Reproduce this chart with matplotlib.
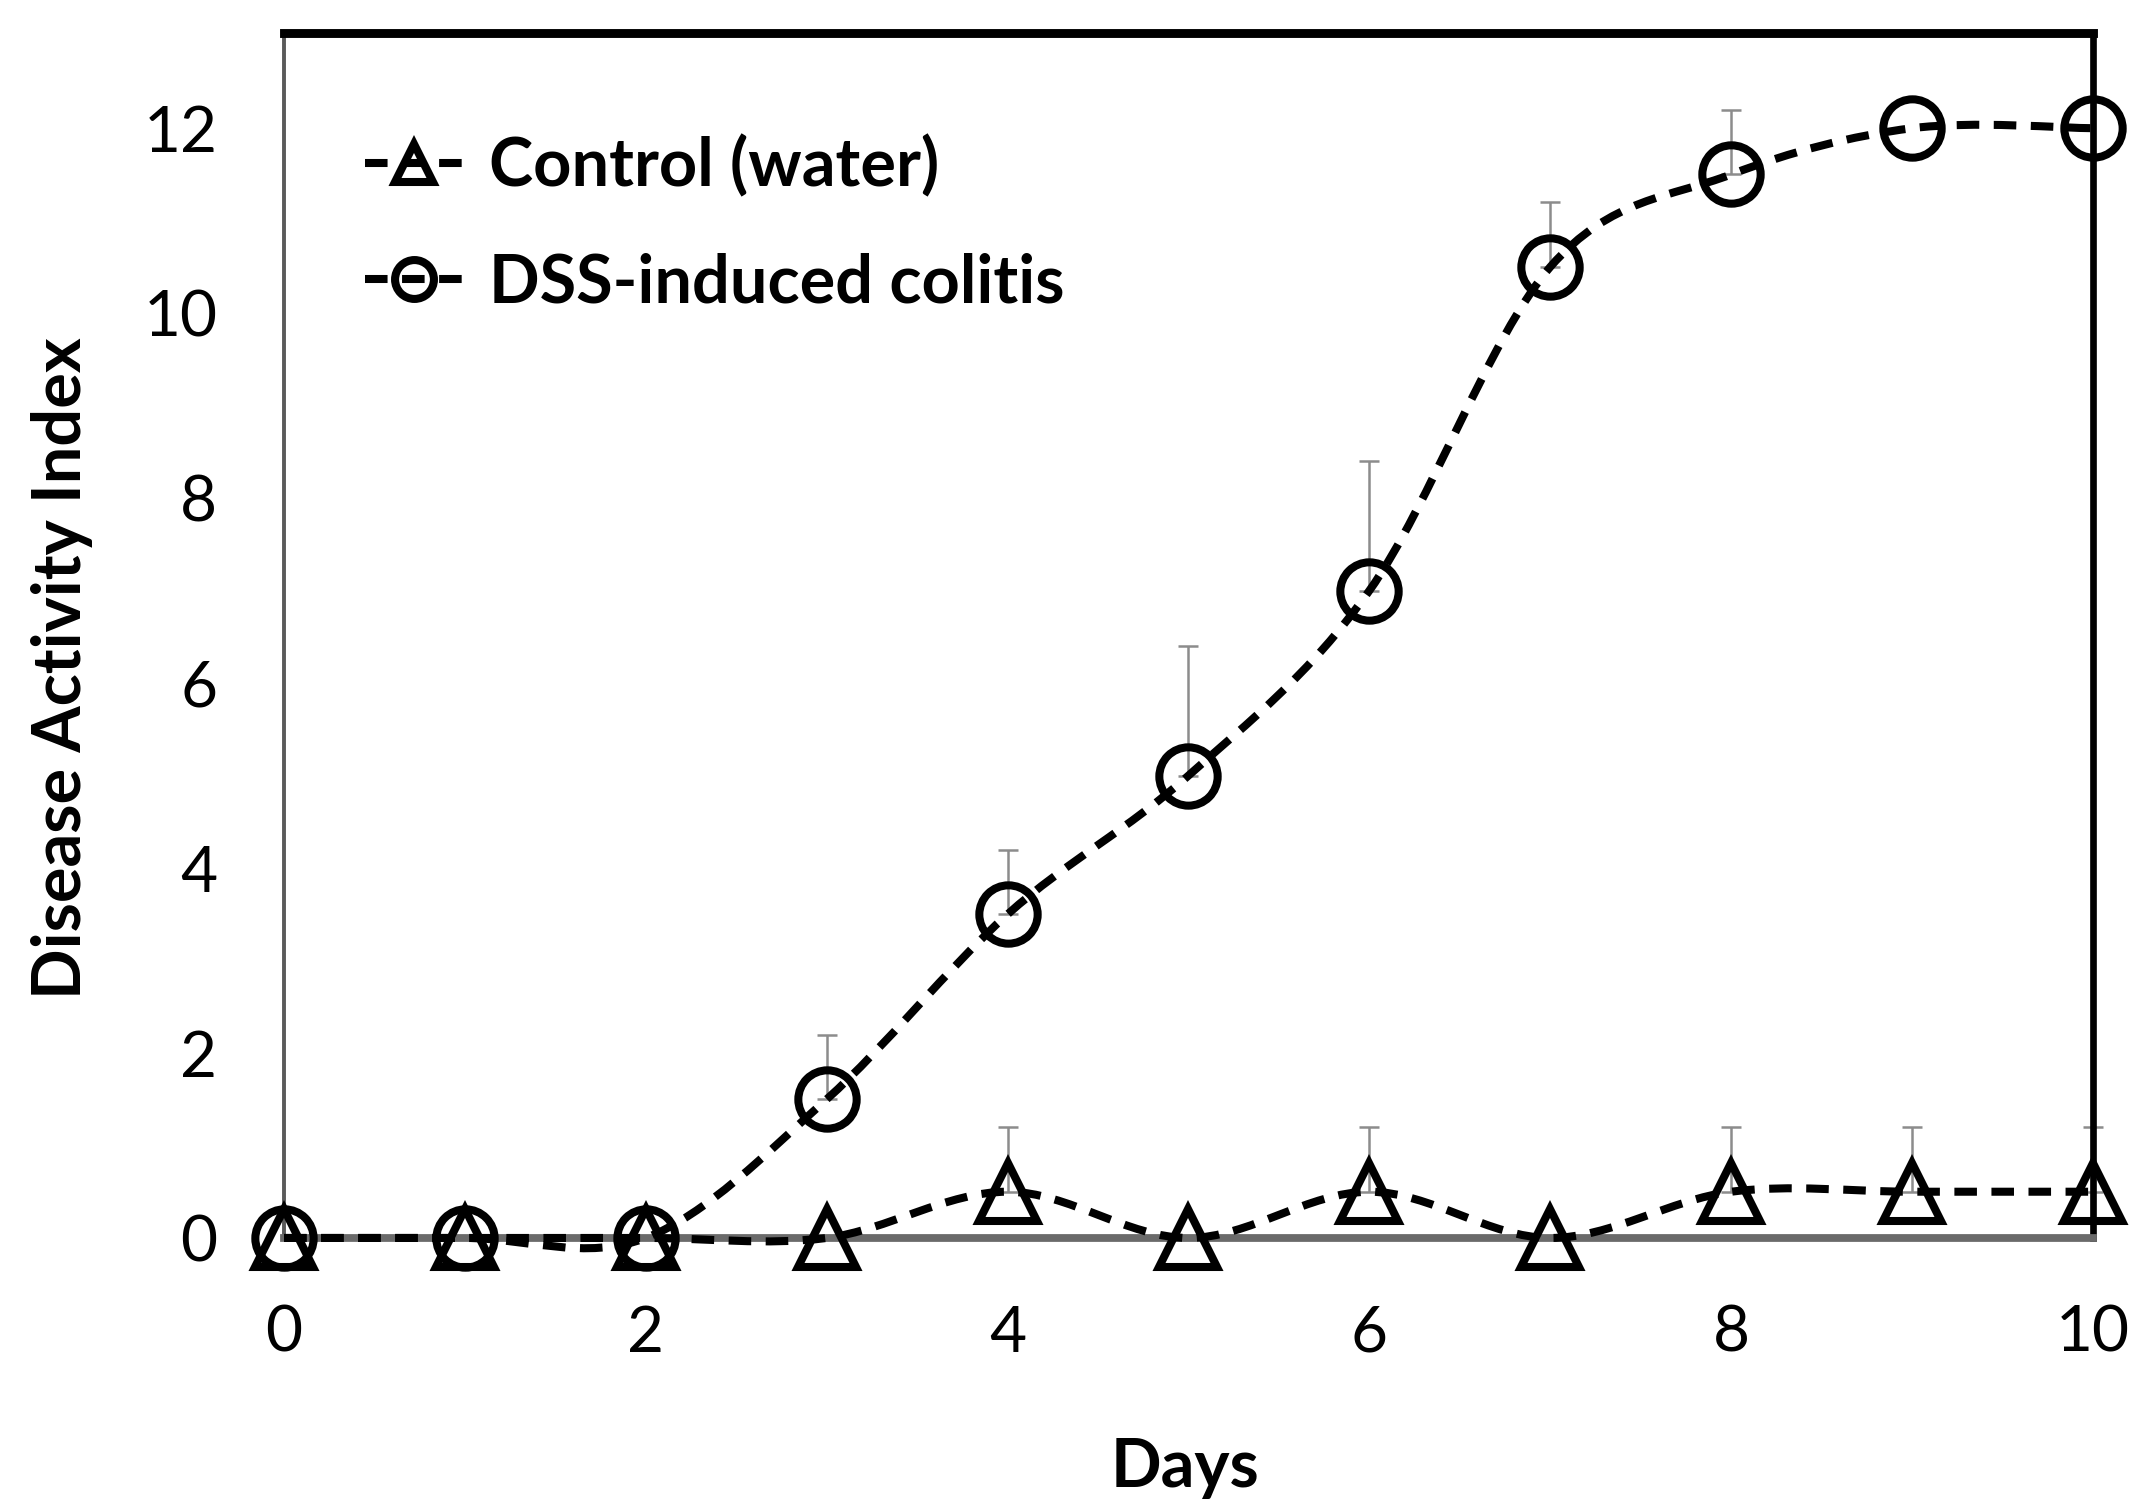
import numpy as np
import matplotlib
matplotlib.use("Agg")
import matplotlib.pyplot as plt
from matplotlib.path import Path
from matplotlib.patches import PathPatch
from matplotlib.lines import Line2D

plt.rcParams['font.family'] = ['Lato', 'DejaVu Sans']

# data
days = np.arange(0, 11)
control_mean = np.array([0, 0, 0, 0, 0.5, 0, 0.5, 0, 0.5, 0.5, 0.5])
control_err = np.array([0, 0, 0, 0, 0.7, 0, 0.7, 0, 0.7, 0.7, 0.7])
dss_mean = np.array([0, 0, 0, 1.5, 3.5, 5, 7, 10.5, 11.5, 12, 12])
dss_err = np.array([0, 0, 0, 0.7, 0.7, 1.4, 1.4, 0.7, 0.7, 0, 0])
labels = ["Control (water)", "DSS-induced colitis"]
markers = ["^", "o"]

LW = 2.9
DASH = (0, (2.8, 1.8))
FS = 23


def smooth_path(x, y):
    # excel style smoothed line (catmull-rom -> cubic bezier)
    pts = np.column_stack([x, y]).astype(float)
    n = len(pts)
    verts = [pts[0]]
    codes = [Path.MOVETO]
    for i in range(n - 1):
        p0 = pts[max(i - 1, 0)]
        p1 = pts[i]
        p2 = pts[i + 1]
        p3 = pts[min(i + 2, n - 1)]
        verts += [p1 + (p2 - p0) / 6, p2 - (p3 - p1) / 6, p2]
        codes += [Path.CURVE4] * 3
    return Path(verts, codes)


fig = plt.figure(figsize=(10.775, 7.555), dpi=200)
ax = fig.add_axes([0.1318, 0.1807, 0.8394, 0.7975])

series = [(control_mean, control_err), (dss_mean, dss_err)]
for (mean, err), mk in zip(series, markers):
    ax.add_patch(PathPatch(smooth_path(days, mean), fill=False, lw=LW, ls=DASH,
                           ec='black', zorder=3, clip_on=False))
    has = err > 0
    ax.errorbar(days[has], mean[has], yerr=[np.zeros(has.sum()), err[has]], fmt='none',
                ecolor='#8c8c8c', elinewidth=0.9, capsize=3.5, capthick=0.9,
                zorder=2, clip_on=False)
    ax.plot(days, mean, ls='none', marker=mk, ms=21, mfc='none', mec='black',
            mew=LW, clip_on=False, zorder=4)

ax.set_xlim(0, 10)
ax.set_ylim(0, 13.03)
ax.set_xticks(np.arange(0, 11, 2))
ax.set_yticks(np.arange(0, 13, 2))
ax.tick_params(length=0, labelsize=FS, pad=24)

# plot area frame, excel look
ax.spines['top'].set_linewidth(3.2)
ax.spines['top'].set_color('black')
ax.spines['right'].set_linewidth(2.4)
ax.spines['right'].set_color('black')
ax.spines['left'].set_linewidth(1.4)
ax.spines['left'].set_color('#5a5a5a')
ax.spines['bottom'].set_linewidth(2.8)
ax.spines['bottom'].set_color('#6a6a6a')
ax.axhline(0, color='#c8c8c8', lw=0.7, zorder=2.5)

handles = [Line2D([], [], color='black', lw=LW, ls=DASH, marker=mk, ms=14,
                  mfc='none', mec='black', mew=LW) for mk in markers]
ax.legend(handles, labels, loc='upper left', bbox_to_anchor=(0.045, 0.915),
          frameon=False, prop={'size': 24, 'weight': 'bold'}, handlelength=1.45,
          handletextpad=0.4, labelspacing=0.8, borderaxespad=0, borderpad=0)

fig.text(62 / 2155, 1 - 668 / 1511, 'Disease Activity Index', rotation=90,
         ha='center', va='center', fontsize=24, fontweight='bold')
fig.text(1185 / 2155, 1 - 1468 / 1511, 'Days', ha='center', va='center',
         fontsize=24, fontweight='bold')

fig.savefig('out.png', dpi=200)
